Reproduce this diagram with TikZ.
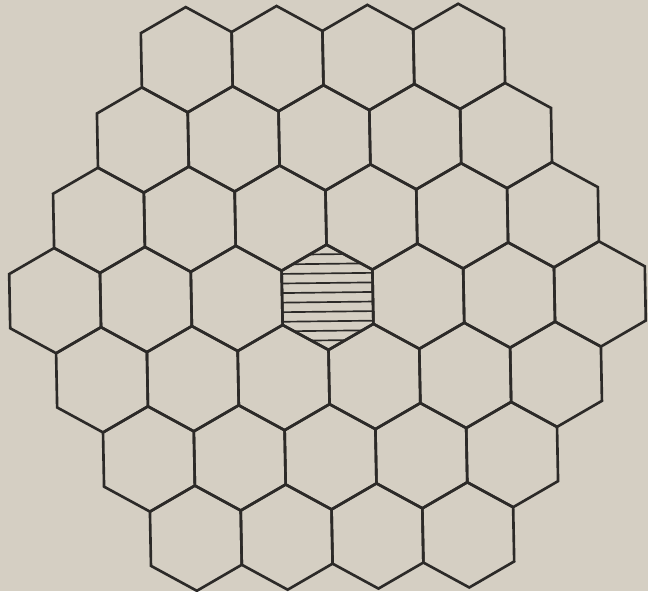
\documentclass[tikz,border=0pt]{standalone}
\definecolor{paper}{RGB}{213,207,195}
\definecolor{ink}{RGB}{44,42,40}
\begin{document}
\begin{tikzpicture}[x=0.02cm, y=0.02cm,
    hexline/.style={ink, line width=1.5pt},
    hatchline/.style={ink, line width=0.95pt}]
	% 纸面背景
	\fill[paper] (0,0) rectangle (648,591);
	\useasboundingbox (0,0) rectangle (648,591);
	
	% 蜂窝网格，中心格在 (327.5,293.7)，整体略有倾斜
	\begin{scope}[shift={(327.5,293.7)}, x={(0.02cm,0.00024cm)}, y={(-0.000376cm,0.02cm)}]
		% 中心格的横线阴影
		\begin{scope}
			\clip (0,52.6) -- (45.4,27.1) -- (45.4,-27.1) -- (0,-52.6) -- (-45.4,-27.1) -- (-45.4,27.1) -- cycle;
			\foreach \k in {1,...,10}
				\draw[hatchline] (-50,{-52.6+\k*105.2/11}) -- (50,{-52.6+\k*105.2/11});
		\end{scope}
		
		% 各行六边形：4,5,6,7,6,5,4
		\foreach \j in {-3,...,3}{
			\pgfmathtruncatemacro\n{7-abs(\j)}
			\foreach \i in {1,...,\n}{
				\pgfmathsetmacro\cx{(\i-(\n+1)/2)*90.8}
				\pgfmathsetmacro\cy{\j*79.75}
				\draw[hexline, shift={(\cx,\cy)}] (0,52.6) -- (45.4,27.1) -- (45.4,-27.1) -- (0,-52.6) -- (-45.4,-27.1) -- (-45.4,27.1) -- cycle;
			}
		}
	\end{scope}
\end{tikzpicture}
\end{document}
